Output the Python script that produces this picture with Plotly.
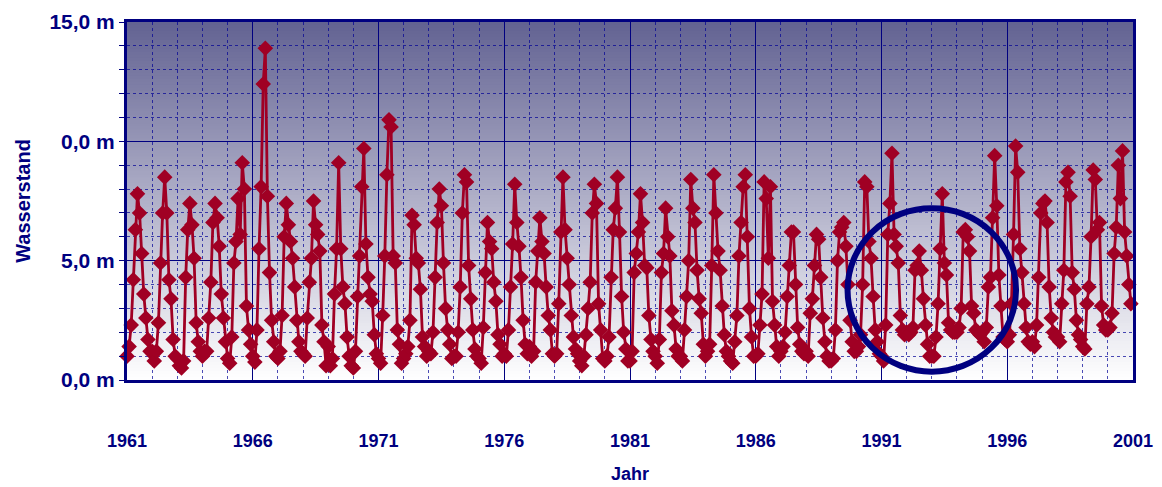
import plotly.graph_objects as go

# Monthly water levels (m), January 1961 .. December 2000
level_1961_1970 = [
    1.0, 1.4, 2.3, 4.2, 6.3, 7.8, 7.0, 5.3, 3.6, 2.6, 1.7, 1.2,   # 1961
    1.2, 0.8, 1.2, 2.4, 4.9, 7.0, 8.5, 7.0, 4.2, 3.4, 1.7, 1.0,   # 1962
    0.9, 0.6, 0.5, 0.8, 4.3, 6.3, 7.4, 6.5, 5.1, 2.4, 1.6, 1.2,   # 1963
    1.0, 1.2, 1.2, 2.6, 4.1, 6.6, 7.4, 6.8, 5.6, 3.6, 2.6, 1.6,   # 1964
    0.9, 0.7, 1.8, 4.9, 5.8, 7.6, 6.1, 9.1, 8.0, 3.1, 2.1, 1.5,   # 1965
    1.0, 0.75, 2.1, 5.5, 8.1, 12.4, 13.9, 7.7, 4.5, 2.5, 1.6, 1.0,  # 1966
    0.9, 1.2, 2.7, 6.0, 7.4, 6.5, 5.8, 5.1, 3.9, 2.5, 1.6, 1.2,   # 1967
    1.1, 1.0, 2.6, 4.1, 5.1, 7.5, 6.5, 6.1, 5.4, 2.3, 1.6, 0.6,   # 1968
    1.4, 0.6, 0.9, 3.6, 5.5, 9.1, 5.5, 3.9, 3.2, 1.8, 1.0, 0.6,   # 1969
    0.5, 1.2, 3.5, 5.2, 8.1, 9.7, 5.7, 4.3, 3.6, 3.3, 1.9, 1.1,   # 1970
]
level_1971_1980 = [
    0.9, 0.7, 2.7, 5.2, 8.6, 10.9, 10.6, 5.2, 4.9, 2.1, 1.5, 0.7,  # 1971
    0.9, 1.1, 1.4, 2.5, 6.9, 6.5, 5.1, 4.9, 3.8, 1.8, 1.4, 1.0,   # 1972
    1.2, 1.1, 2.0, 4.3, 6.6, 8.0, 7.3, 4.9, 3.0, 2.1, 1.5, 0.9,   # 1973
    1.0, 1.0, 2.0, 3.9, 7.0, 8.6, 8.3, 4.8, 3.4, 2.1, 1.3, 1.0,   # 1974
    0.9, 0.7, 2.2, 4.5, 6.6, 5.8, 5.5, 4.1, 3.3, 1.9, 1.5, 1.0,   # 1975
    1.1, 1.0, 2.1, 3.9, 5.7, 8.2, 6.6, 5.6, 4.3, 2.5, 1.5, 1.1,   # 1976
    1.4, 1.0, 1.2, 4.1, 5.4, 6.8, 5.8, 5.3, 3.9, 2.7, 2.1, 1.1,   # 1977
    1.0, 1.1, 3.2, 6.2, 8.5, 6.3, 5.1, 4.0, 2.7, 1.8, 1.3, 1.1,   # 1978
    0.8, 0.6, 1.0, 1.9, 3.0, 4.1, 7.0, 8.2, 7.4, 3.2, 2.1, 0.9,   # 1979
    0.8, 1.0, 1.8, 4.3, 6.3, 7.2, 8.5, 6.2, 3.5, 2.0, 1.3, 0.8,   # 1980
]
level_1981_1990 = [
    0.8, 1.2, 4.5, 5.3, 6.2, 7.8, 6.6, 4.8, 4.7, 2.7, 1.7, 1.2,   # 1981
    1.0, 0.7, 1.7, 4.5, 5.3, 7.2, 6.0, 5.2, 2.9, 2.3, 1.3, 1.0,   # 1982
    1.0, 0.8, 2.1, 3.5, 5.0, 8.4, 7.2, 6.6, 4.6, 3.4, 2.8, 1.5,   # 1983
    1.0, 1.2, 1.5, 4.8, 8.6, 7.0, 5.4, 4.6, 3.1, 1.9, 1.2, 1.0,   # 1984
    0.8, 0.7, 1.6, 2.7, 5.2, 6.6, 8.1, 8.6, 6.0, 3.0, 1.8, 1.0,   # 1985
    1.0, 1.1, 2.3, 3.6, 8.3, 7.6, 5.1, 8.1, 3.3, 2.3, 1.4, 1.0,   # 1986
    1.2, 1.4, 2.0, 3.5, 4.8, 6.2, 6.2, 4.0, 2.2, 1.5, 1.2, 1.1,   # 1987
    1.2, 1.0, 2.8, 3.4, 4.8, 6.1, 5.9, 4.3, 2.6, 1.6, 1.0, 0.8,   # 1988
    0.8, 0.9, 2.1, 5.0, 6.2, 6.4, 6.6, 5.6, 4.0, 2.5, 1.6, 1.2,   # 1989
    1.2, 1.4, 1.9, 4.0, 8.3, 8.1, 5.8, 5.1, 3.5, 2.1, 1.6, 1.1,   # 1990
]
level_1991_2000 = [
    1.0, 0.8, 2.3, 6.1, 7.4, 9.5, 6.1, 5.6, 4.9, 2.7, 2.1, 1.9,   # 1991
    2.0, 1.9, 2.0, 2.2, 4.6, 4.8, 5.4, 4.6, 3.4, 2.3, 1.5, 1.0,   # 1992
    1.0, 1.0, 1.8, 3.2, 5.5, 7.8, 4.9, 4.4, 2.4, 2.1, 2.0, 2.0,   # 1993
    2.0, 2.2, 3.0, 6.2, 6.3, 6.0, 5.4, 3.1, 2.8, 2.1, 2.0, 1.9,   # 1994
    2.0, 1.6, 2.2, 3.9, 4.3, 6.8, 9.4, 7.3, 4.4, 3.1, 1.8, 1.7,   # 1995
    1.6, 1.9, 3.2, 6.1, 9.8, 8.7, 5.5, 4.5, 3.2, 2.2, 1.6, 1.5,   # 1996
    1.6, 1.4, 2.3, 4.3, 7.0, 7.4, 7.5, 6.6, 3.9, 2.6, 2.0, 1.8,   # 1997
    1.8, 1.6, 3.2, 4.6, 8.3, 8.7, 7.7, 4.5, 3.8, 2.5, 1.9, 1.7,   # 1998
    1.4, 1.3, 3.2, 3.9, 6.0, 8.8, 8.4, 6.3, 6.6, 3.1, 2.3, 2.1,   # 1999
    2.1, 2.2, 2.8, 5.3, 6.4, 9.0, 7.6, 9.6, 6.2, 5.2, 4.0, 3.2,   # 2000
]

start_year = 1961
x_tick_years = [1961, 1966, 1971, 1976, 1981, 1986, 1991, 1996, 2001]
y_tick_vals = [0, 5, 10, 15]
y_tick_text = ["0,0 m", "5,0 m", "0,0 m", "15,0 m"]

levels = level_1961_1970 + level_1971_1980 + level_1981_1990 + level_1991_2000
months = [start_year + i / 12 for i in range(len(levels))]

NAVY = "#000080"
RED = "#A00024"
FONT = "Liberation Sans, Arial, sans-serif"

fig = go.Figure()
fig.add_trace(go.Scatter(
    x=months, y=levels, mode="lines+markers",
    line=dict(color=RED, width=2.8),
    marker=dict(symbol="diamond", size=12, color=RED),
    hoverinfo="x+y", showlegend=False, cliponaxis=False,
))

# vertical gradient background (dark slate blue at top -> white at bottom)
n = 120
top = (98, 98, 146)
bot = (255, 255, 255)
shapes = []
for i in range(n):
    t = (i + 0.5) / n
    c = tuple(int(round(bot[k] + (top[k] - bot[k]) * t)) for k in range(3))
    shapes.append(dict(type="rect", xref="x domain", yref="y domain",
                       x0=0, x1=1, y0=i / n, y1=min(1.0, (i + 1) / n + 0.006),
                       fillcolor="rgb(%d,%d,%d)" % c, line=dict(width=0),
                       layer="below"))
# highlight circle
shapes.append(dict(type="circle", xref="x", yref="y",
                   x0=1989.65, x1=1996.35, y0=0.35, y1=7.2,
                   line=dict(color=NAVY, width=6), layer="above"))

fig.update_layout(
    width=1162, height=487,
    margin=dict(l=127, r=29, t=22, b=107),
    paper_bgcolor="white", plot_bgcolor="white",
    shapes=shapes,
    font=dict(family=FONT, color=NAVY),
)
fig.update_xaxes(
    range=[1961, 2001], tickvals=x_tick_years,
    ticktext=[str(v) for v in x_tick_years],
    tickfont=dict(size=18, color=NAVY, family=FONT, weight="bold"),
    ticks="", ticklabelstandoff=42, automargin=False,
    showgrid=True, gridcolor=NAVY, gridwidth=1.3,
    minor=dict(dtick=1, showgrid=True, gridcolor="rgba(0,0,150,0.7)",
               griddash="dot", gridwidth=1),
    showline=True, linecolor=NAVY, linewidth=3, mirror=True,
    zeroline=False,
    title=dict(text="Jahr", font=dict(size=18, color=NAVY, family=FONT, weight="bold"),
               standoff=18),
)
fig.update_yaxes(
    range=[0, 15], tickvals=y_tick_vals, ticktext=y_tick_text,
    tickfont=dict(size=21, color=NAVY, family=FONT, weight="bold"),
    ticks="outside", ticklen=5, tickcolor=NAVY, automargin=False,
    showgrid=True, gridcolor=NAVY, gridwidth=1.3,
    minor=dict(dtick=1, showgrid=True, gridcolor="rgba(0,0,150,0.7)",
               griddash="dot", gridwidth=1, ticks="outside", ticklen=5,
               tickcolor=NAVY),
    showline=True, linecolor=NAVY, linewidth=3, mirror=True,
    zeroline=False,
    title=dict(text="Wasserstand", font=dict(size=20, color=NAVY, family=FONT, weight="bold"),
               standoff=14),
)

fig.write_html(
    "out.html",
    config={"displayModeBar": False},
    post_script="document.body.style.margin='0px';document.body.style.overflow='hidden';",
)
